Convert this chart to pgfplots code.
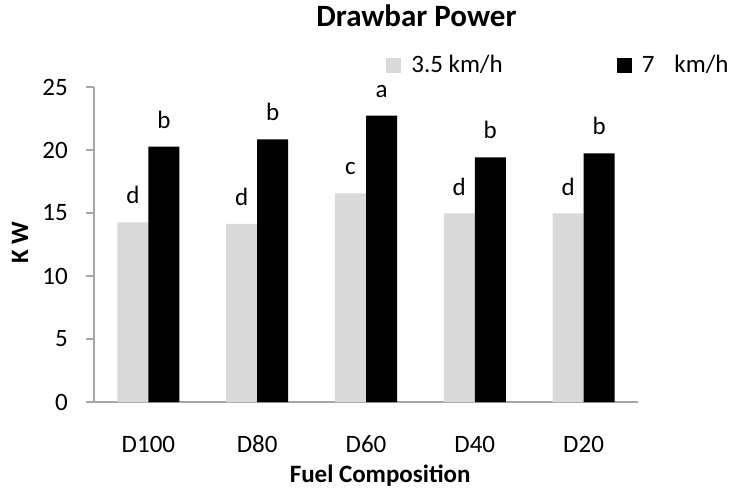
\documentclass[border=0pt]{standalone}
\usepackage{pgfplots}
\pgfplotsset{compat=1.18}
\usepackage{fontspec}
\setmainfont{Carlito}

\definecolor{lightbar}{HTML}{D9D9D9}
\definecolor{axisgray}{HTML}{A6A6A6}

\begin{document}
\begin{tikzpicture}
\fontsize{25bp}{30bp}\selectfont
\begin{axis}[
    at={(0,0)}, anchor=south west,
    scale only axis,
    width=544bp, height=315bp,
    ybar=0pt,
    bar width=31bp,
    xmin=-0.5, xmax=4.5,
    ymin=0, ymax=25,
    ytick={0,5,...,25},
    xtick=data,
    xticklabels={D100,D80,D60,D40,D20},
    axis x line*=bottom,
    axis y line*=left,
    axis line style={axisgray, line width=1.2bp},
    tick align=outside,
    major tick length=8bp,
    ytick style={axisgray, line width=1.2bp},
    xtick style={draw=none},
    xticklabel style={anchor=north, inner sep=0pt, text height=16bp, text depth=0pt, yshift=-26bp},
    yticklabel style={anchor=east, inner sep=0pt, xshift=-18bp},
    /pgf/number format/assume math mode=true,
    title={\textbf{\fontsize{31bp}{36bp}\selectfont Drawbar Power}},
    title style={at={(axis description cs:0.5928,1.1746)}, anchor=base, inner sep=0pt},
    xlabel={\textbf{Fuel Composition}},
    xlabel style={at={(axis description cs:0.526,-0.257)}, anchor=base, inner sep=0pt},
    ylabel={\textbf{K W}},
    ylabel style={at={(axis description cs:-0.136,0.505)}, anchor=center, inner sep=0pt},
    legend style={at={(axis description cs:0.537,1.068)}, anchor=west, draw=none,
        legend columns=2, inner sep=0pt, column sep=0pt,
        nodes={inner sep=0pt},
        /tikz/every odd column/.append style={column sep=10bp},
        /tikz/every even column/.append style={column sep=114bp}},
    legend image code/.code={\fill[#1] (0bp,-7.5bp) rectangle (15bp,7.5bp);},
    nodes near coords,
    point meta=explicit symbolic,
    every node near coord/.append style={anchor=south, inner sep=0pt, yshift=18bp, black},
]
\addplot[fill=lightbar, draw=none] coordinates {
    (0,14.26) [d]
    (1,14.13) [d]
    (2,16.56) [c]
    (3,14.97) [d]
    (4,14.97) [d]
};
\addplot[fill=black, draw=none] coordinates {
    (0,20.26) [b]
    (1,20.85) [b]
    (2,22.72) [a]
    (3,19.42) [b]
    (4,19.74) [b]
};
\legend{3.5 km/h, 7\hspace{20bp}km/h}
\end{axis}
\path[use as bounding box] (-94bp,-90bp) rectangle (646bp,402bp);
\end{tikzpicture}
\end{document}
